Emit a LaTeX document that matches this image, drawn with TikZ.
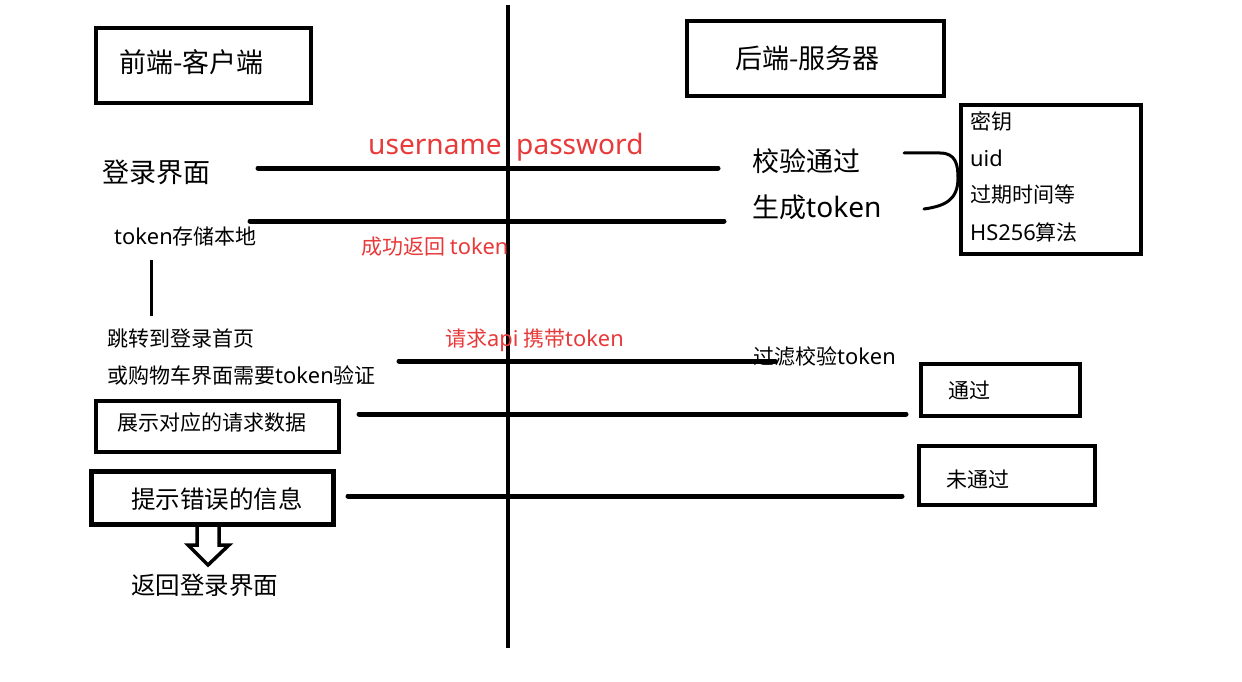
\documentclass[tikz,border=0pt]{standalone}
\usepackage{fontspec}
\setmainfont{Noto Sans CJK SC}
\newfontfamily\lat[Scale=1.04]{Noto Sans}
\begin{document}
\begin{tikzpicture}[x=1pt,y=-1pt,
  txt/.style={anchor=west,inner sep=0pt,text=black},
  redtxt/.style={anchor=west,inner sep=0pt,text=myred},
  boxx/.style={draw=black,line width=4.5pt},
  ln/.style={draw=black,line width=5pt,line cap=round},
  f21/.style={font=\fontsize{21}{24}\selectfont},
  f24/.style={font=\fontsize{24.5}{28}\selectfont},
  f27/.style={font=\fontsize{27}{30}\selectfont}]
\definecolor{myred}{RGB}{232,58,58}
\fill[white] (0,0) rectangle (1242,682);
\useasboundingbox (0,0) rectangle (1242,682);
% central divider
\coordinate (vtop) at (508,5);
\coordinate (vbot) at (508,648);
\draw[draw=black,line width=4pt] (vtop) -- (vbot);
% header boxes
\draw[boxx] (96,28) rectangle (311,103);
\node[txt,f27] (fe) at (119,62) {前端-客户端};
\draw[boxx] (687,21) rectangle (944,96);
\node[txt,f27] (be) at (735,58) {后端-服务器};
% login row
\node[txt,f27] (login) at (102,172) {登录界面};
\node[redtxt,f27] (up) at (368,147) {\lat username\ \ password};
\coordinate (l1a) at (258,168);
\coordinate (l1b) at (718,168);
\draw[ln] (l1a) -- (l1b);
\node[txt,f27] (check) at (752,161) {校验通过};
\node[txt,f27] (gen) at (752,207) {生成{\lat token}};
\coordinate (l2a) at (250,221);
\coordinate (l2b) at (724,221);
\draw[ln] (l2a) -- (l2b);
% brace
\coordinate (br1) at (904,153);
\coordinate (br2) at (924,209);
\draw[draw=black,line width=3pt,line cap=round] (br1) -- (940,153) .. controls (956,153) and (958,165) .. (958,178) .. controls (958,200) and (945,206) .. (br2);
% token box
\draw[boxx] (961,105) rectangle (1141,254);
\node[txt,f21] (k1) at (970,121) {密钥};
\node[txt,f21] (k2) at (970,158) {\lat uid};
\node[txt,f21] (k3) at (970,195) {过期时间等};
\node[txt,f21] (k4) at (970,232) {{\lat HS256}算法};
% store
\node[txt,f21] (store) at (114,236) {{\lat token}存储本地};
\node[redtxt,f21] (ret) at (361,247) {成功返回 {\lat token}};
\coordinate (s1) at (151,260);
\coordinate (s2) at (151,316);
\draw[draw=black,line width=3pt] (s1) -- (s2);
\node[txt,f21] (jump1) at (107,339) {跳转到登录首页};
\node[txt,f21] (jump2) at (107,376) {或购物车界面需要{\lat token}验证};
\node[redtxt,f21] (req) at (445,340) {请求{\lat api} 携带{\lat token}};
\coordinate (l3a) at (399,361);
\coordinate (l3b) at (775,361);
\draw[ln] (l3a) -- (l3b);
\node[txt,f21] (filter) at (753,356) {过滤校验{\lat token}};
% pass
\draw[boxx] (921,364) rectangle (1080,416);
\node[txt,f21] (pass) at (948,390) {通过};
\coordinate (l4a) at (359,414);
\coordinate (l4b) at (906,414);
\draw[ln] (l4a) -- (l4b);
\draw[boxx] (96,401) rectangle (339,452);
\node[txt,f21] (show) at (117,423) {展示对应的请求数据};
% fail
\draw[boxx] (919,446) rectangle (1095,505);
\node[txt,f21] (fail) at (946,480) {未通过};
\coordinate (l5a) at (348,496);
\coordinate (l5b) at (902,496);
\draw[ln] (l5a) -- (l5b);
\draw[draw=black,line width=5pt] (91,471) rectangle (333,524);
\node[txt,f24] (err) at (131,499) {提示错误的信息};
% hollow arrow
\draw[draw=black,line width=3.5pt,line join=miter] (197,526) -- (197,545) -- (188,545) -- (208,565) -- (229,545) -- (219,545) -- (219,526);
\node[txt,f24] (back) at (131,585) {返回登录界面};
\end{tikzpicture}
\end{document}
